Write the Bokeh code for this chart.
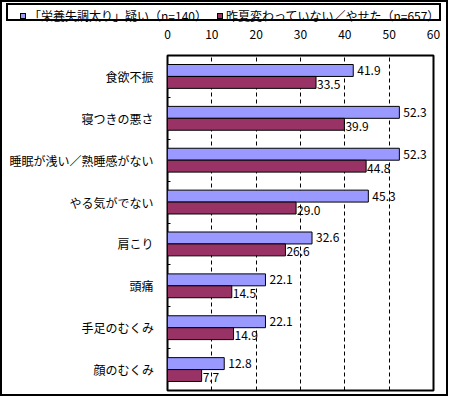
from bokeh.plotting import figure
from bokeh.layouts import column
from bokeh.models import (ColumnDataSource, FixedTicker, Range1d, LabelSet, Div)
from bokeh.core.properties import value
from bokeh.embed import file_html
from bokeh.resources import INLINE

categories = ["食欲不振", "寝つきの悪さ", "睡眠が浅い／熟睡感がない", "やる気がでない",
              "肩こり", "頭痛", "手足のむくみ", "顔のむくみ"]
series_a = [41.9, 52.3, 52.3, 45.3, 32.6, 22.1, 22.1, 12.8]
series_b = [33.5, 39.9, 44.8, 29.0, 26.6, 14.5, 14.9, 7.7]
name_a = "「栄養失調太り」疑い（n=140）"
name_b = "昨夏変わっていない／やせた（n=657）"
x_ticks = [0, 10, 20, 30, 40, 50, 60]

FONT = "Noto Sans CJK JP"
COL_A = "#9999FF"
COL_B = "#993366"
n = len(categories)
centers = [n - i - 0.5 for i in range(n)]
bar_h = 0.285

W = 444            # inner width (outer border adds 2px each side)
H_LEG = 24
H_MAIN = 368

src = ColumnDataSource(dict(
    ya=[c + bar_h / 2 for c in centers],
    yb=[c - bar_h / 2 for c in centers],
    a=series_a, b=series_b,
    la=[f"{v:.1f}" for v in series_a],
    lb=[f"{v:.1f}" for v in series_b],
))

# ---------------- main chart ----------------
p = figure(width=W, height=H_MAIN, output_backend="svg", toolbar_location=None,
           x_range=Range1d(0, 60), y_range=Range1d(0, n),
           x_axis_location="above", tools="", margin=0)
p.min_border_left = 165
p.min_border_right = 13
p.min_border_top = 26
p.min_border_bottom = 4
p.background_fill_color = "white"
p.border_fill_color = "white"
p.outline_line_color = "black"
p.outline_line_width = 2

p.hbar(y="ya", left=0, right="a", height=bar_h, source=src,
       fill_color=COL_A, line_color="black", line_width=1)
p.hbar(y="yb", left=0, right="b", height=bar_h, source=src,
       fill_color=COL_B, line_color="black", line_width=1)

p.add_layout(LabelSet(x="a", y="ya", text="la", source=src, x_offset=4,
                      text_baseline="middle", text_font_size="12px",
                      text_font=value(FONT), text_color="black"))
p.add_layout(LabelSet(x="b", y="yb", text="lb", source=src, x_offset=1, y_offset=-2,
                      text_baseline="middle", text_font_size="12px",
                      text_font=value(FONT), text_color="black"))

xa = p.xaxis[0]
xa.ticker = FixedTicker(ticks=x_ticks)
xa.axis_line_color = None
xa.major_tick_line_color = None
xa.minor_tick_line_color = None
xa.major_label_standoff = 11
xa.major_label_text_font = FONT
xa.major_label_text_font_size = "12px"
xa.major_label_text_color = "black"

ya = p.yaxis[0]
ya.ticker = FixedTicker(ticks=centers, minor_ticks=list(range(1, n)))
ya.major_label_overrides = {c: cat for c, cat in zip(centers, categories)}
ya.axis_line_color = None
ya.major_tick_line_color = None
ya.minor_tick_line_color = "black"
ya.minor_tick_in = 3
ya.minor_tick_out = 0
ya.major_label_standoff = 8
ya.major_label_text_font = FONT
ya.major_label_text_font_size = "12px"
ya.major_label_text_color = "black"

p.xgrid.ticker = FixedTicker(ticks=x_ticks[1:-1])
p.xgrid.grid_line_color = "black"
p.xgrid.grid_line_dash = "4 3"
p.xgrid.grid_line_width = 1
p.ygrid.grid_line_color = None

# ---------------- legend strip (HTML) ----------------
def swatch(color, left):
    return (f'<span style="display:inline-block;width:6px;height:6px;'
            f'border:1px solid black;background:{color};margin-left:{left}px;'
            f'margin-right:3px;vertical-align:middle;"></span>')

legend_html = (
    f'<div style="position:absolute;left:4px;top:1px;width:435px;height:18px;'
    f'border:2px solid black;background:white;font-family:\'{FONT}\';'
    f'font-size:12px;line-height:18px;white-space:nowrap;color:black;">'
    f'{swatch(COL_A, 12)}<span style="display:inline-block;width:164px;'
    f'vertical-align:middle;">{name_a}</span>'
    f'{swatch(COL_B, 24)}<span style="vertical-align:middle;">{name_b}</span>'
    f'</div>'
)
lg = Div(text=legend_html, width=W, height=H_LEG, margin=0,
         styles={"position": "relative", "background-color": "white"})

layout = column(lg, p, spacing=0, margin=0,
                styles={"border": "2px solid black", "background-color": "white"})

open("out.html", "w").write(file_html(layout, INLINE))
